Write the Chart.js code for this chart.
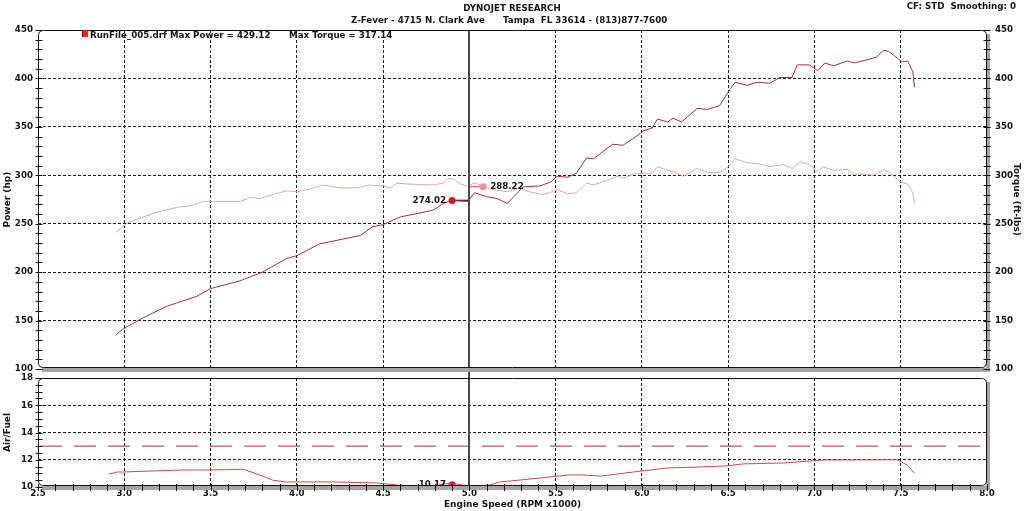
<!DOCTYPE html>
<html><head><meta charset="utf-8">
<script src="https://cdn.jsdelivr.net/npm/chart.js@4.4.0/dist/chart.umd.min.js"></script>
<style>
html,body{margin:0;padding:0;background:#fff;}
#wrap{position:relative;width:1024px;height:511px;overflow:hidden;font-family:"DejaVu Sans",Verdana,sans-serif;font-weight:bold;color:#151515;}
canvas{position:absolute;left:0;top:0;}
.t{position:absolute;white-space:pre;font-size:8.7px;line-height:10px;}
#sq{position:absolute;left:82px;top:30px;width:5px;height:7px;background:#e02828;border-left:1px solid #6a0a0a;}
</style></head><body>
<div id="wrap">
<canvas id="top" width="1024" height="511"></canvas>
<canvas id="bot" width="1024" height="511"></canvas>
<div class="t" style="left:0;width:1024px;text-align:center;top:3px">DYNOJET RESEARCH</div>
<div class="t" style="left:351px;top:15px">Z-Fever - 4715 N. Clark Ave</div>
<div class="t" style="left:503px;top:15px">Tampa  FL 33614 - (813)877-7600</div>
<div class="t" style="right:8px;top:1px">CF: STD  Smoothing: 0</div>
<div id="sq"></div>
<div class="t" style="left:90px;top:30px">RunFile_005.drf Max Power = 429.12</div>
<div class="t" style="left:289px;top:30px">Max Torque = 317.14</div>
</div>
<script>
// ---------- data ----------
const rpmTickValues = [2.5,3.0,3.5,4.0,4.5,5.0,5.5,6.0,6.5,7.0,7.5,8.0];
const powerTickValues = [100,150,200,250,300,350,400,450];
const torqueTickValues = [100,150,200,250,300,350,400,450];
const afrTickValues = [10,12,14,16,18];

const powerRpm = [2.95,2.99,3.11,3.25,3.42,3.50,3.67,3.80,3.94,4.00,4.13,4.21,4.37,4.44,4.50,4.60,4.71,4.79,4.85,4.90,4.99,5.03,5.10,5.16,5.22,5.28,5.31,5.41,5.47,5.51,5.57,5.62,5.68,5.72,5.77,5.83,5.89,5.95,6.01,6.06,6.09,6.15,6.18,6.23,6.32,6.38,6.45,6.50,6.54,6.61,6.67,6.74,6.80,6.87,6.90,6.97,7.02,7.06,7.11,7.19,7.23,7.30,7.36,7.40,7.43,7.48,7.51,7.54,7.57,7.58];
const powerHp = [135,141,153,165,175,183,191,200,214,217,229,232,238,247,249,257,261,264,271,274,273,282,278,276,271,282,288,289,293,299,298,302,318,317,324,332,331,338,346,349,358,355,359,355,369,368,372,386,396,393,396,395,401,401,414,414,408,416,413,418,416,419,422,429.1,428,421,417,418,407,391];

const torqueRpm = [2.95,3.02,3.11,3.19,3.31,3.40,3.46,3.67,3.73,3.79,3.86,3.94,4.00,4.08,4.15,4.25,4.35,4.42,4.50,4.54,4.58,4.64,4.79,4.85,4.88,4.91,4.95,4.99,5.03,5.08,5.14,5.22,5.29,5.35,5.43,5.51,5.57,5.62,5.68,5.72,5.80,5.86,5.89,5.95,6.00,6.06,6.09,6.15,6.18,6.24,6.32,6.38,6.45,6.50,6.54,6.61,6.67,6.74,6.82,6.87,6.92,6.97,7.02,7.05,7.11,7.19,7.22,7.30,7.34,7.40,7.44,7.50,7.54,7.57,7.58];
const torqueLbft = [241,251,257,262,267,269,273,273,277,276,280,284,283,286,290,287,287,290,289,287,292,291,290,292,297,296,291,289,292,289,285,283,287,283,280,285,281,282,292,290,295,299,297,301,302,302,309,305,304,299,307,303,303,309,317.1,313,312,309,311,307,314,311,304,309,305,306,301,301,300,306,302,293,291,282,271];

const afrRpm = [2.91,2.96,2.99,3.15,3.34,3.50,3.69,3.77,3.86,3.94,4.21,4.46,4.60,4.71,4.79,4.87,4.92,4.99,5.08,5.18,5.41,5.57,5.66,5.76,5.95,6.15,6.34,6.49,6.59,6.82,7.05,7.48,7.54,7.58];
const afrRatio = [10.95,11.1,11.1,11.17,11.25,11.25,11.3,10.95,10.5,10.37,10.37,10.3,10.12,10.05,10.1,10.25,10.22,10.08,10.02,10.37,10.66,10.88,10.88,10.8,11.1,11.4,11.47,11.55,11.7,11.76,11.98,12.0,11.6,11.0];

const afrTarget = 13;
const cursorRpm = 5.0;
const powerMark = {rpm: 4.90, value: 274.02};
const torqueMark = {rpm: 5.08, value: 288.22};
const afrMark = {rpm: 4.90, value: 10.17};

// ---------- helpers ----------
const F = '"DejaVu Sans", Verdana, sans-serif';
const tickFont = {family: F, size: 8.7, weight: 'bold'};
const titleFont = {family: F, size: 9, weight: 'bold'};
const pts = (xs, ys) => xs.map((x, i) => ({x, y: ys[i]}));
const setTicks = vals => s => { s.ticks = vals.map(v => ({value: v})); };
const gridColor = edges => c => (c.tick && edges.includes(c.tick.value)) ? 'rgba(0,0,0,0)' : '#1a1a1a';

function roundRect(ctx, x, y, w, h, r) {
  ctx.beginPath();
  ctx.moveTo(x + r, y); ctx.lineTo(x + w - r, y); ctx.quadraticCurveTo(x + w, y, x + w, y + r);
  ctx.lineTo(x + w, y + h - r); ctx.quadraticCurveTo(x + w, y + h, x + w - r, y + h);
  ctx.lineTo(x + r, y + h); ctx.quadraticCurveTo(x, y + h, x, y + h - r);
  ctx.lineTo(x, y + r); ctx.quadraticCurveTo(x, y, x + r, y);
  ctx.closePath();
}

// frame, cursor and minor tick marks drawn with the chart's own scales
const framePlugin = {
  id: 'frame',
  afterDatasetsDraw(chart) {
    const {ctx, chartArea: a} = chart;
    const o = chart.options.plugins.frame || {};
    ctx.save();
    // cursor line (top chart extends through the gap to the lower panel)
    const cx = Math.round(chart.scales.x.getPixelForValue(cursorRpm));
    ctx.strokeStyle = '#4a4a4a'; ctx.lineWidth = 2;
    ctx.beginPath(); ctx.moveTo(cx, a.top); ctx.lineTo(cx, a.bottom + (o.cursorExtend || 0)); ctx.stroke();
    // marker labels
    chart.data.datasets.forEach((ds, i) => {
      if (!ds.markLabel) return;
      const p = chart.getDatasetMeta(i).data[0];
      ctx.font = 'bold 8.7px ' + F; ctx.fillStyle = '#151515'; ctx.textBaseline = 'middle';
      ctx.textAlign = ds.markSide === 'left' ? 'right' : 'left';
      ctx.fillText(ds.markLabel, ds.markSide === 'left' ? p.x - 6 : p.x + 7, p.y + 0.5);
    });
    ctx.restore();
  },
  afterDraw(chart) {
    const {ctx, chartArea: a} = chart;
    const o = chart.options.plugins.frame || {};
    ctx.save();
    // shadow
    ctx.fillStyle = '#a4a4a4';
    ctx.fillRect(a.left + 4, a.bottom - 1, a.right - a.left - 2, 4);
    ctx.fillRect(a.right - 1, a.top + 4, 4, a.bottom - a.top - 1);
    // border
    ctx.strokeStyle = '#111'; ctx.lineWidth = 1;
    roundRect(ctx, a.left + 0.5, a.top + 0.5, a.right - a.left - 1, a.bottom - a.top - 2, 5);
    ctx.stroke();
    // minor ticks
    ctx.strokeStyle = '#111'; ctx.lineWidth = 1;
    (o.minor || []).forEach(m => {
      const s = chart.scales[m.axis];
      ctx.beginPath();
      for (let v = s.min; v <= s.max + 1e-9; v += m.step) {
        const p = Math.round(s.getPixelForValue(v)) + 0.5;
        if (s.isHorizontal()) { ctx.moveTo(p, a.bottom - 3); ctx.lineTo(p, a.bottom + 4); }
        else {
          const x0 = s.position === 'left' ? a.left + 0.5 : a.right - 0.5;
          ctx.moveTo(x0 - 3, p); ctx.lineTo(x0 + 4, p);
        }
      }
      ctx.stroke();
    });
    ctx.restore();
  }
};

const common = {
  responsive: false, animation: false, events: [],
  plugins: {legend: {display: false}, tooltip: {enabled: false}},
  elements: {line: {tension: 0}, point: {radius: 0}}
};

// ---------- top chart: power & torque ----------
new Chart(document.getElementById('top'), {
  type: 'line',
  plugins: [framePlugin],
  data: {datasets: [
    {data: pts(torqueRpm, torqueLbft), yAxisID: 'yT', borderColor: '#e6a6a6', borderWidth: 1},
    {data: pts(powerRpm, powerHp), yAxisID: 'yP', borderColor: '#a2323d', borderWidth: 1},
    {data: [{x: powerMark.rpm, y: powerMark.value}, {x: cursorRpm, y: powerMark.value}], yAxisID: 'yP',
     borderColor: '#2a2a2a', borderWidth: 1.5, pointRadius: c => c.dataIndex === 0 ? 3.5 : 0,
     pointBackgroundColor: '#e3121c', pointBorderWidth: 0, markLabel: powerMark.value.toFixed(2), markSide: 'left'},
    {data: [{x: torqueMark.rpm, y: torqueMark.value}, {x: cursorRpm, y: torqueMark.value}], yAxisID: 'yT',
     borderColor: '#e07a7a', borderWidth: 1.5, pointRadius: c => c.dataIndex === 0 ? 3.5 : 0,
     pointBackgroundColor: '#f08c8c', pointBorderWidth: 0, markLabel: torqueMark.value.toFixed(2), markSide: 'right'}
  ]},
  options: Object.assign({}, common, {
    layout: {padding: {top: 30, bottom: 141, left: 0, right: 0}},
    plugins: Object.assign({}, common.plugins, {frame: {cursorExtend: 10, minor: [{axis: 'yP', step: 10}, {axis: 'yT', step: 10}]}}),
    scales: {
      x: {type: 'linear', min: 2.5, max: 8, position: 'bottom', afterBuildTicks: setTicks(rpmTickValues),
          ticks: {display: false}, grid: {drawTicks: false, color: gridColor([2.5, 8])},
          border: {display: false, dash: [3, 2]}, afterFit: s => { s.height = 1; }},
      yP: {type: 'linear', position: 'left', min: 100, max: 450, afterBuildTicks: setTicks(powerTickValues),
           ticks: {font: tickFont, color: '#151515', padding: 5}, grid: {drawTicks: false, color: gridColor([100, 450])},
           border: {display: false, dash: [3, 2]},
           title: {display: true, text: 'Power (hp)', font: titleFont, color: '#151515', padding: {top: 2.5, bottom: 0}},
           afterFit: s => { s.width = 38; }},
      yT: {type: 'linear', position: 'right', min: 100, max: 450, afterBuildTicks: setTicks(torqueTickValues),
           ticks: {font: tickFont, color: '#151515', padding: 8}, grid: {drawTicks: false, drawOnChartArea: false},
           border: {display: false},
           title: {display: true, text: 'Torque (ft-lbs)', font: titleFont, color: '#151515', padding: {top: 2, bottom: 0}},
           afterFit: s => { s.width = 37; }}
    }
  })
});

// ---------- bottom chart: air/fuel ----------
new Chart(document.getElementById('bot'), {
  type: 'line',
  plugins: [framePlugin],
  data: {datasets: [
    {data: [{x: 2.5, y: afrTarget}, {x: 8.0, y: afrTarget}], borderColor: '#b02a2a', borderWidth: 1, borderDash: [22, 12], borderDashOffset: -2},
    {data: pts(afrRpm, afrRatio), borderColor: '#cc4a4a', borderWidth: 1},
    {data: [{x: afrMark.rpm, y: afrMark.value}], borderWidth: 0, pointRadius: 3.5,
     pointBackgroundColor: '#e3121c', pointBorderWidth: 0, markLabel: afrMark.value.toFixed(2), markSide: 'left'}
  ]},
  options: Object.assign({}, common, {
    layout: {padding: {top: 378, bottom: 0, left: 0, right: 37}},
    plugins: Object.assign({}, common.plugins, {frame: {minor: [{axis: 'x', step: 0.1}, {axis: 'y', step: 0.5}]}}),
    scales: {
      x: {type: 'linear', min: 2.5, max: 8, position: 'bottom', afterBuildTicks: setTicks(rpmTickValues),
          ticks: {font: tickFont, color: '#151515', padding: 2, maxRotation: 0, callback: v => Number(v).toFixed(1)},
          grid: {drawTicks: false, color: gridColor([2.5, 8])}, border: {display: false, dash: [3, 2]},
          title: {display: true, text: 'Engine Speed (RPM x1000)', font: titleFont, color: '#151515', padding: {top: 0, bottom: 1}},
          afterFit: s => { s.height = 24; }},
      y: {type: 'linear', position: 'left', min: 10, max: 18, afterBuildTicks: setTicks(afrTickValues),
          ticks: {font: tickFont, color: '#151515', padding: 5}, grid: {drawTicks: false, color: gridColor([10, 18])},
          border: {display: false, dash: [3, 2]},
          title: {display: true, text: 'Air/Fuel', font: titleFont, color: '#151515', padding: {top: 2.5, bottom: 0}},
          afterFit: s => { s.width = 38; }}
    }
  })
});
</script>
</body></html>
